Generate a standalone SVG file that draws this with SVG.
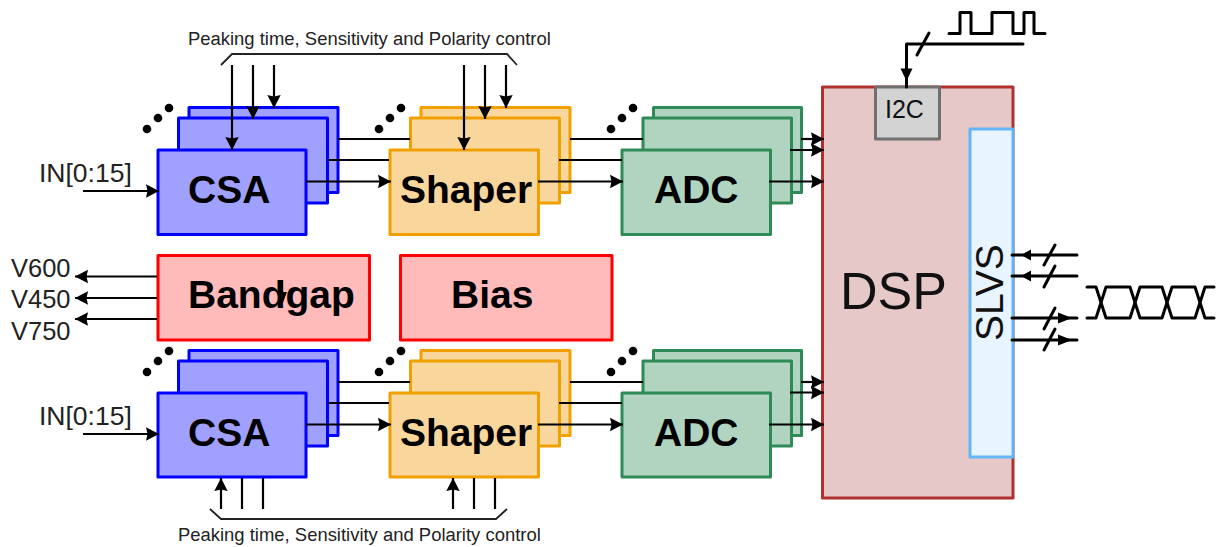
<svg xmlns="http://www.w3.org/2000/svg" width="1217" height="547" viewBox="0 0 1217 547">
<style>
text{font-family:"Liberation Sans",Arial,sans-serif;fill:#111}
.b{font-weight:bold;font-size:39px;fill:#000}
.s{font-size:18.45px;fill:#222}
.l{font-size:25.5px;fill:#222}
.i{font-size:26.5px;fill:#222}
rect{stroke-width:3;stroke-linejoin:round}
.csa{fill:#a0a0ff;stroke:#0000ff}
.shp{fill:#f8d69c;stroke:#f0a000}
.adc{fill:#b0d4bf;stroke:#2e8b57}
.red{fill:#ffbaba;stroke:#ff0000}
.c{fill:none;stroke:#000;stroke-width:2.2}
.a{marker-end:url(#h)}
.t{fill:none;stroke:#000;stroke-width:3;stroke-linecap:round;stroke-linejoin:round}
.g{fill:none;stroke:#222;stroke-width:1.8}
.d{fill:#000}
</style>
<defs>
<marker id="h" markerUnits="userSpaceOnUse" markerWidth="15" markerHeight="15" refX="13" refY="7.500" orient="auto">
<path d="M13,7.500 L0,0.800 L1.500,7.500 L0,14.200 Z" fill="#000"/>
</marker>
<g id="dots"><circle cx="0" cy="21" r="4.300"/><circle cx="11" cy="10" r="4.300"/><circle cx="22" cy="0" r="4.300"/></g>
</defs>
<g id="dots-layer" class="d">
<use href="#dots" x="147" y="108"/><use href="#dots" x="379" y="108"/><use href="#dots" x="611" y="108"/>
<use href="#dots" x="147" y="351"/><use href="#dots" x="379" y="351"/><use href="#dots" x="611" y="351"/>
</g>
<g id="csa-top"><rect class="csa" x="189" y="107.500" width="149" height="85"/><rect class="csa" x="178.500" y="118" width="149" height="85"/><rect class="csa" x="158" y="150" width="148" height="84.500"/><text class="b" x="188" y="203">CSA</text></g>
<g id="shaper-top"><rect class="shp" x="421" y="107.500" width="149" height="85"/><rect class="shp" x="410.500" y="118" width="149" height="85"/><rect class="shp" x="390" y="150" width="148.500" height="84.500"/><text class="b" x="400" y="203">Shaper</text></g>
<g id="adc-top"><rect class="adc" x="653.500" y="107.500" width="148" height="85"/><rect class="adc" x="643" y="118" width="148.500" height="85"/><rect class="adc" x="622" y="150" width="148.500" height="84.500"/><text class="b" x="654" y="203">ADC</text></g>
<g id="bandgap"><rect class="red" x="158" y="255.500" width="211.500" height="84.500"/><text class="b" x="188" y="308">Bandgap</text></g>
<g id="bias"><rect class="red" x="400.500" y="255.500" width="211.500" height="84.500"/><text class="b" x="451" y="308">Bias</text></g>
<g id="csa-bottom"><rect class="csa" x="189" y="350.500" width="149" height="85"/><rect class="csa" x="178.500" y="361" width="149" height="85"/><rect class="csa" x="158" y="393" width="148" height="84"/><text class="b" x="188" y="446">CSA</text></g>
<g id="shaper-bottom"><rect class="shp" x="421" y="350.500" width="149" height="85"/><rect class="shp" x="410.500" y="361" width="149" height="85"/><rect class="shp" x="390" y="393" width="148.500" height="84"/><text class="b" x="400" y="446">Shaper</text></g>
<g id="adc-bottom"><rect class="adc" x="653.500" y="350.500" width="148" height="85"/><rect class="adc" x="643" y="361" width="148.500" height="85"/><rect class="adc" x="622" y="393" width="148.500" height="84"/><text class="b" x="654" y="446">ADC</text></g>
<g id="dsp"><rect x="822.500" y="87" width="190.500" height="411" fill="#e6c8c8" stroke="#b03030"/><text x="840" y="309" font-size="52" fill="#111">DSP</text></g>
<g id="i2c"><rect x="875.500" y="87" width="64" height="52" fill="#d3d3d3" stroke="#707070"/><text x="885" y="118" font-size="25" fill="#111">I2C</text></g>
<g id="slvs"><rect x="970" y="129" width="43" height="328" fill="#e8f4ff" stroke="#64b5f6"/><text transform="translate(1003,341) rotate(-90)" font-size="39" fill="#111">SLVS</text></g>
<g id="labels">
<text class="s" x="188" y="45">Peaking time, Sensitivity and Polarity control</text>
<text class="s" x="178" y="541">Peaking time, Sensitivity and Polarity control</text>
<text class="i" x="39" y="182">IN[0:15]</text>
<text class="i" x="39" y="425">IN[0:15]</text>
<text class="l" x="11" y="277">V600</text>
<text class="l" x="11" y="308">V450</text>
<text class="l" x="11" y="340">V750</text>
</g>
<g id="connectors">
<path class="g" d="M221,65 L232,54 H507 L517,65"/>
<path class="g" d="M210,509 L221,519 H496 L507,509"/>
<path class="c a" d="M232,65 V150"/><path class="c a" d="M253,65 V119"/><path class="c a" d="M274,65 V108"/>
<path class="c a" d="M464,65 V150"/><path class="c a" d="M485,65 V119"/><path class="c a" d="M506,65 V108"/>
<path class="c a" d="M221,509 V478"/><path class="c" d="M242,478 V509"/><path class="c" d="M263,478 V509"/>
<path class="c a" d="M453,509 V478"/><path class="c" d="M474,478 V509"/><path class="c" d="M495,478 V509"/>
<path class="c a" d="M83,191 H159"/><path class="c a" d="M83,434 H159"/>
<path class="c" d="M338,139 H410"/><path class="c" d="M328,160 H389"/><path class="c a" d="M306,181.500 H391"/>
<path class="c" d="M570,139 H643"/><path class="c" d="M559,160 H622"/><path class="c a" d="M538,181.500 H623"/>
<path class="c a" d="M801,139 H824"/><path class="c a" d="M790,150 H824"/><path class="c a" d="M769,181.500 H824"/>
<path class="c" d="M338,382 H410"/><path class="c" d="M328,403 H389"/><path class="c a" d="M306,424.500 H391"/>
<path class="c" d="M570,382 H643"/><path class="c" d="M559,403 H622"/><path class="c a" d="M538,424.500 H623"/>
<path class="c a" d="M801,382 H824"/><path class="c a" d="M790,392.500 H824"/><path class="c a" d="M769,424.500 H824"/>
<path class="c a" d="M157,276.500 H75"/><path class="c a" d="M157,298 H75"/><path class="c a" d="M157,319 H75"/>
<path class="c" d="M282,280 V296"/><path d="M282,305 L277,292 H287 Z" fill="#000"/>
<path class="t" d="M1023,44 H906.500 V87"/>
<path d="M906.500,81 L900.500,68.500 H912.500 Z" fill="#000"/>
<path class="t" d="M917,55 L929,33"/>
<path class="t" d="M949,33.500 H960 V12.500 H971 V33.500 H992 V12.500 H1013 V33.500 H1024 V12.500 H1034 V33.500 H1045"/>
<path class="t" d="M1012,255 H1077"/><path class="t" d="M1012,276 H1077"/><path class="t" d="M1012,318 H1077"/><path class="t" d="M1012,340 H1077"/>
<path class="t" d="M1044,265 L1055,245"/><path class="t" d="M1044,287 L1055,266"/><path class="t" d="M1044,329 L1055,308"/><path class="t" d="M1044,350 L1055,329"/>
<path d="M1021,255 L1031,249.500 V260.500 Z M1021,276 L1031,270.500 V281.500 Z M1072,318 L1058,312.500 V323.500 Z M1072,340 L1058,334.500 V345.500 Z" fill="#000"/>
<path class="t" d="M1087,287 H1096 L1106,318 H1130 L1140,287 H1162 L1172,318 H1195 L1205,287 H1214"/>
<path class="t" d="M1087,318 H1096 L1106,287 H1130 L1140,318 H1162 L1172,287 H1195 L1205,318 H1214"/>
</g>
</svg>
